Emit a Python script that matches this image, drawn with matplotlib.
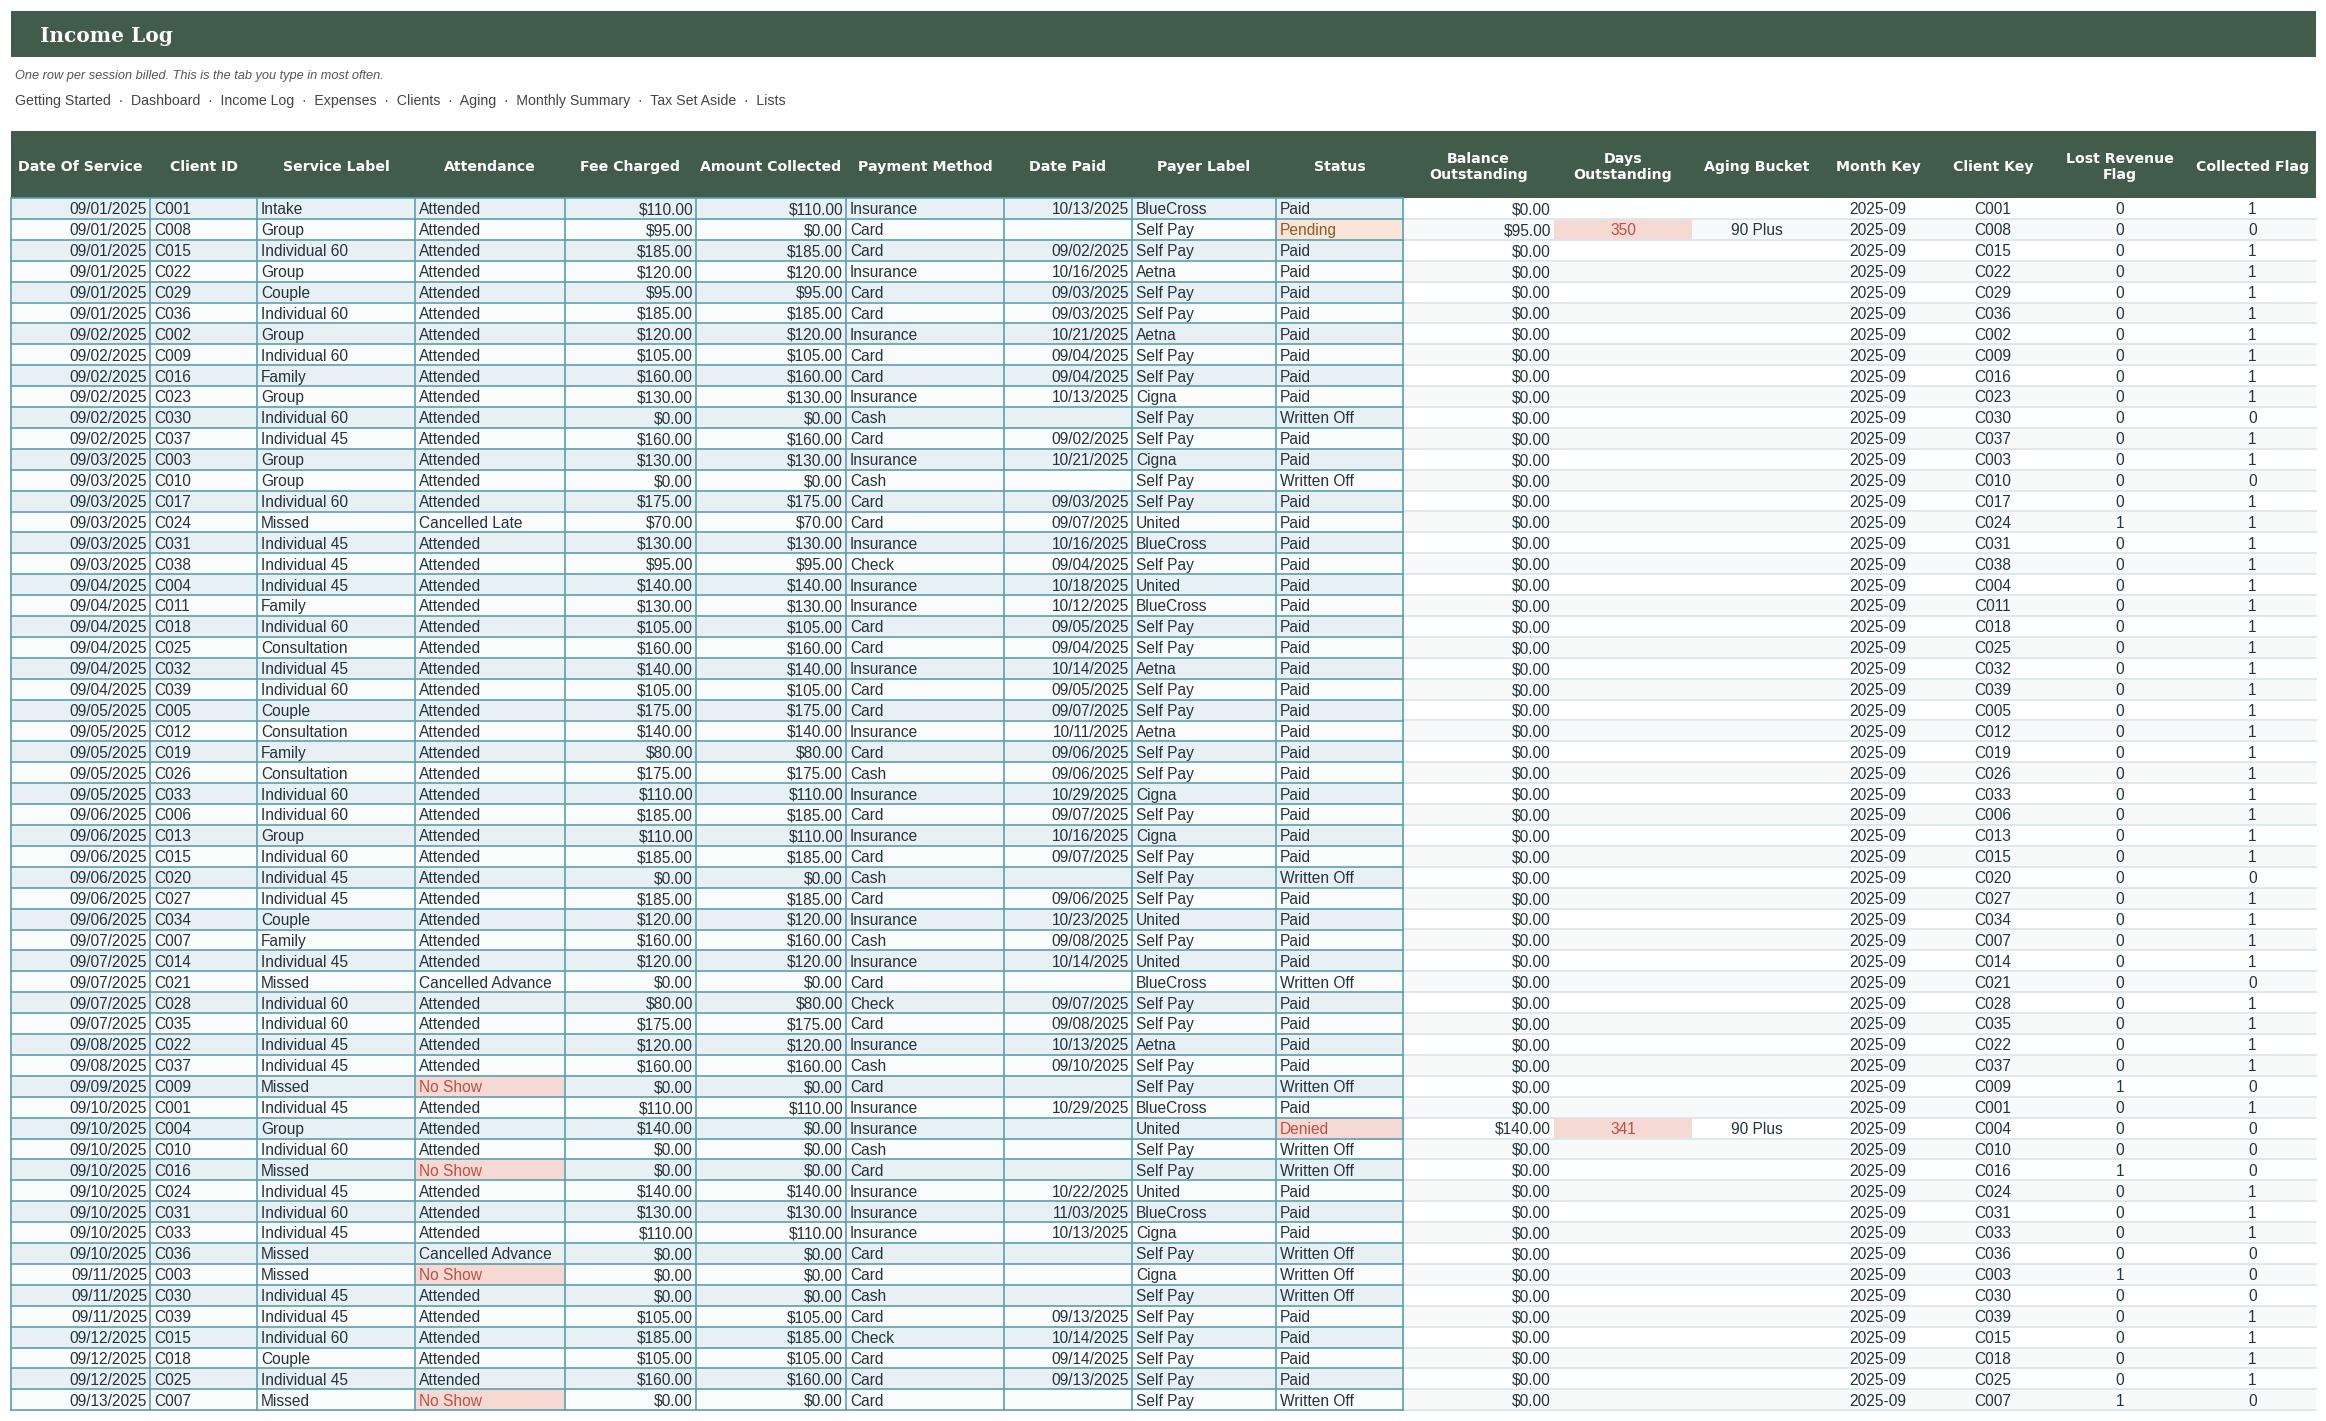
import matplotlib
matplotlib.use('Agg')
from matplotlib import pyplot as plt
from matplotlib.patches import Rectangle

headers = ['Date Of Service', 'Client ID', 'Service Label', 'Attendance', 'Fee Charged',
           'Amount Collected', 'Payment Method', 'Date Paid', 'Payer Label', 'Status',
           'Balance\nOutstanding', 'Days\nOutstanding', 'Aging Bucket', 'Month Key',
           'Client Key', 'Lost Revenue\nFlag', 'Collected Flag']
nav = ['Getting Started', 'Dashboard', 'Income Log', 'Expenses', 'Clients', 'Aging',
       'Monthly Summary', 'Tax Set Aside', 'Lists']

dates = ['09/01'] * 6 + ['09/02'] * 6 + ['09/03'] * 6 + ['09/04'] * 6 + ['09/05'] * 5 + \
        ['09/06'] * 6 + ['09/07'] * 5 + ['09/08'] * 2 + ['09/09'] + ['09/10'] * 8 + \
        ['09/11'] * 3 + ['09/12'] * 3 + ['09/13']
client = ['C001', 'C008', 'C015', 'C022', 'C029', 'C036', 'C002', 'C009', 'C016', 'C023',
          'C030', 'C037', 'C003', 'C010', 'C017', 'C024', 'C031', 'C038', 'C004', 'C011',
          'C018', 'C025', 'C032', 'C039', 'C005', 'C012', 'C019', 'C026', 'C033', 'C006',
          'C013', 'C015', 'C020', 'C027', 'C034', 'C007', 'C014', 'C021', 'C028', 'C035',
          'C022', 'C037', 'C009', 'C001', 'C004', 'C010', 'C016', 'C024', 'C031', 'C033',
          'C036', 'C003', 'C030', 'C039', 'C015', 'C018', 'C025', 'C007']
service = ['Intake', 'Group', 'Individual 60', 'Group', 'Couple', 'Individual 60', 'Group',
           'Individual 60', 'Family', 'Group', 'Individual 60', 'Individual 45', 'Group',
           'Group', 'Individual 60', 'Missed', 'Individual 45', 'Individual 45',
           'Individual 45', 'Family', 'Individual 60', 'Consultation', 'Individual 45',
           'Individual 60', 'Couple', 'Consultation', 'Family', 'Consultation',
           'Individual 60', 'Individual 60', 'Group', 'Individual 60', 'Individual 45',
           'Individual 45', 'Couple', 'Family', 'Individual 45', 'Missed', 'Individual 60',
           'Individual 60', 'Individual 45', 'Individual 45', 'Missed', 'Individual 45',
           'Group', 'Individual 60', 'Missed', 'Individual 45', 'Individual 60',
           'Individual 45', 'Missed', 'Missed', 'Individual 45', 'Individual 45',
           'Individual 60', 'Couple', 'Individual 45', 'Missed']
# rows that are not plain "Attended"
attendance_other = {15: 'Cancelled Late', 37: 'Cancelled Advance', 42: 'No Show', 46: 'No Show',
                    50: 'Cancelled Advance', 51: 'No Show', 57: 'No Show'}
fee = [110, 95, 185, 120, 95, 185, 120, 105, 160, 130, 0, 160, 130, 0, 175, 70, 130, 95, 140,
       130, 105, 160, 140, 105, 175, 140, 80, 175, 110, 185, 110, 185, 0, 185, 120, 160, 120,
       0, 80, 175, 120, 160, 0, 110, 140, 0, 0, 140, 130, 110, 0, 0, 0, 105, 185, 105, 160, 0]
collected = [110, 0, 185, 120, 95, 185, 120, 105, 160, 130, 0, 160, 130, 0, 175, 70, 130, 95,
             140, 130, 105, 160, 140, 105, 175, 140, 80, 175, 110, 185, 110, 185, 0, 185, 120,
             160, 120, 0, 80, 175, 120, 160, 0, 110, 0, 0, 0, 140, 130, 110, 0, 0, 0, 105, 185,
             105, 160, 0]
method = ['Insurance', 'Card', 'Card', 'Insurance', 'Card', 'Card', 'Insurance', 'Card', 'Card',
          'Insurance', 'Cash', 'Card', 'Insurance', 'Cash', 'Card', 'Card', 'Insurance', 'Check',
          'Insurance', 'Insurance', 'Card', 'Card', 'Insurance', 'Card', 'Card', 'Insurance',
          'Card', 'Cash', 'Insurance', 'Card', 'Insurance', 'Card', 'Cash', 'Card', 'Insurance',
          'Cash', 'Insurance', 'Card', 'Check', 'Card', 'Insurance', 'Cash', 'Card', 'Insurance',
          'Insurance', 'Cash', 'Card', 'Insurance', 'Insurance', 'Insurance', 'Card', 'Card',
          'Cash', 'Card', 'Check', 'Card', 'Card', 'Card']
paid = ['10/13', '', '09/02', '10/16', '09/03', '09/03', '10/21', '09/04', '09/04', '10/13', '',
        '09/02', '10/21', '', '09/03', '09/07', '10/16', '09/04', '10/18', '10/12', '09/05',
        '09/04', '10/14', '09/05', '09/07', '10/11', '09/06', '09/06', '10/29', '09/07', '10/16',
        '09/07', '', '09/06', '10/23', '09/08', '10/14', '', '09/07', '09/08', '10/13', '09/10',
        '', '10/29', '', '', '', '10/22', '11/03', '10/13', '', '', '', '09/13', '10/14', '09/14',
        '09/13', '']
payer = ['BlueCross', 'Self Pay', 'Self Pay', 'Aetna', 'Self Pay', 'Self Pay', 'Aetna', 'Self Pay',
         'Self Pay', 'Cigna', 'Self Pay', 'Self Pay', 'Cigna', 'Self Pay', 'Self Pay', 'United',
         'BlueCross', 'Self Pay', 'United', 'BlueCross', 'Self Pay', 'Self Pay', 'Aetna',
         'Self Pay', 'Self Pay', 'Aetna', 'Self Pay', 'Self Pay', 'Cigna', 'Self Pay', 'Cigna',
         'Self Pay', 'Self Pay', 'Self Pay', 'United', 'Self Pay', 'United', 'BlueCross',
         'Self Pay', 'Self Pay', 'Aetna', 'Self Pay', 'Self Pay', 'BlueCross', 'United',
         'Self Pay', 'Self Pay', 'United', 'BlueCross', 'Cigna', 'Self Pay', 'Cigna', 'Self Pay',
         'Self Pay', 'Self Pay', 'Self Pay', 'Self Pay', 'Self Pay']
# status differs from "Paid" on these rows
status_other = {1: 'Pending', 10: 'Written Off', 13: 'Written Off', 32: 'Written Off',
                37: 'Written Off', 42: 'Written Off', 44: 'Denied', 45: 'Written Off',
                46: 'Written Off', 50: 'Written Off', 51: 'Written Off', 52: 'Written Off',
                57: 'Written Off'}
balance = {1: 95, 44: 140}
days_out = {1: '350', 44: '341'}
bucket = {1: '90 Plus', 44: '90 Plus'}
lost_rows = [15, 42, 46, 51, 57]
not_collected = [1, 10, 13, 32, 37, 42, 44, 45, 46, 50, 51, 52, 57]

edges = [11, 150, 257, 415, 565, 696, 846, 1004, 1132, 1276, 1403, 1554, 1692, 1821, 1935, 2051,
         2189, 2316]
top, row_h = 198.0, 20.9

GREEN = '#425c4b'
TEAL = '#5aa0b2'
INK = '#22343e'
STRIPE = '#e8f0f3'
PALE = '#fafbfb'
RED_BG, RED_TX = '#f6d9d3', '#c0503f'
ORG_BG, ORG_TX = '#fae5d6', '#8f5a24'
BODY = ['Liberation Sans', 'DejaVu Sans']

fig = plt.figure(figsize=(23.26, 14.21), dpi=100)
ax = fig.add_axes([0, 0, 1, 1])
ax.set_xlim(0, 2326)
ax.set_ylim(1421, 0)
ax.axis('off')


def box(x0, y0, x1, y1, color, z=1):
    ax.add_patch(Rectangle((x0, y0), x1 - x0, y1 - y0, fc=color, ec='none', lw=0, zorder=z))


# banner and notes
box(11, 11, 2316, 57, GREEN)
ax.text(40, 42, 'Income Log', color='white', fontsize=14.5, fontweight='bold', family='DejaVu Serif')
ax.text(15, 79, 'One row per session billed. This is the tab you type in most often.',
        color='#555555', fontsize=9.2, style='italic', family=BODY)
ax.text(15, 105, '  ·  '.join(nav), color='#444444', fontsize=10.2, family=BODY)

# header
box(11, 131, 2316, 198, GREEN)
for c, h in enumerate(headers):
    ax.text((edges[c] + edges[c + 1]) / 2, 167, h, color='white', fontsize=10.2, fontweight='bold',
            family='DejaVu Sans', ha='center', va='center', linespacing=1.25)

n = len(client)
for r in range(n):
    y0 = top + r * row_h
    y1 = y0 + row_h
    base = y0 + row_h / 2 + 5.9
    att = attendance_other.get(r, 'Attended')
    st = status_other.get(r, 'Paid')
    row = [dates[r] + '/2025', client[r], service[r], att, '$%.2f' % fee[r],
           '$%.2f' % collected[r], method[r], paid[r] + '/2025' if paid[r] else '', payer[r], st,
           '$%.2f' % balance.get(r, 0), days_out.get(r, ''), bucket.get(r, ''), '2025-09',
           client[r], str(int(r in lost_rows)), str(int(r not in not_collected))]
    # row fills, left block is the banded table, right block is the calculated part
    box(edges[0], y0, edges[10], y1, STRIPE if r % 2 == 0 else PALE)
    box(edges[10], y0, edges[17], y1, 'white' if r % 2 == 0 else '#f8fafa')
    ax.plot([edges[10], edges[17]], [y1, y1], color='#dce6ea', lw=1.3, zorder=2)
    if att == 'No Show':
        box(edges[3], y0, edges[4], y1, RED_BG, 1.5)
    if st == 'Pending':
        box(edges[9], y0, edges[10], y1, ORG_BG, 1.5)
    if st == 'Denied':
        box(edges[9], y0, edges[10], y1, RED_BG, 1.5)
    if r in days_out:
        box(edges[11], y0, edges[12], y1, RED_BG, 1.5)
    for c, val in enumerate(row):
        if not val:
            continue
        col = INK
        if (c == 3 and val == 'No Show') or (c == 9 and val == 'Denied') or c == 11:
            col = RED_TX
        if c == 9 and val == 'Pending':
            col = ORG_TX
        if c in (0, 4, 5, 7, 10):
            x, ha = edges[c + 1] - 3, 'right'
        elif c in (1, 2, 3, 6, 8, 9):
            x, ha = edges[c] + 4, 'left'
        else:
            x, ha = (edges[c] + edges[c + 1]) / 2, 'center'
        ax.text(x, base, val, color=col, fontsize=11.2, family=BODY, ha=ha, va='baseline', zorder=4)

# teal grid on the left block only
bottom = top + n * row_h
for x in edges[:11]:
    ax.plot([x, x], [top, bottom], color=TEAL, lw=1.2, zorder=3)
for r in range(n + 1):
    y = top + r * row_h
    ax.plot([edges[0], edges[10]], [y, y], color=TEAL, lw=1.2, zorder=3)

fig.savefig('out.png', dpi=100)
